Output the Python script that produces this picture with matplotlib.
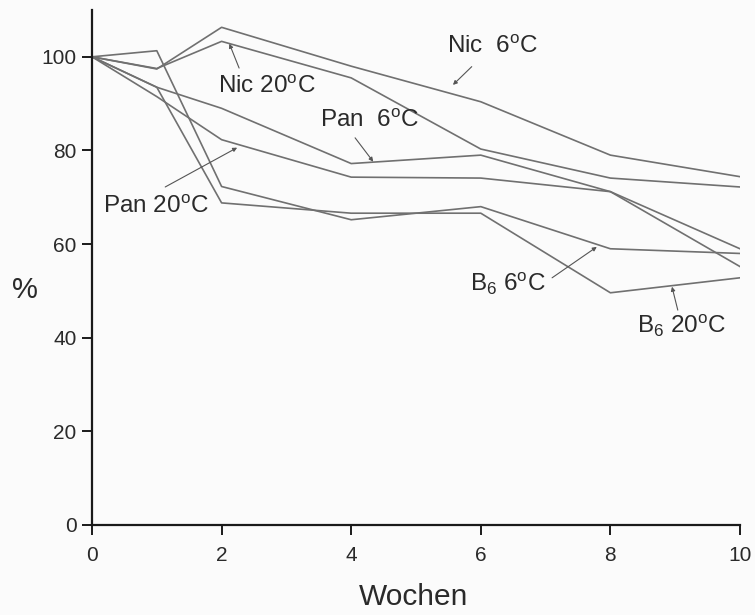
import matplotlib
matplotlib.use("Agg")
import matplotlib.pyplot as plt

plt.rcParams['font.family'] = ['Liberation Sans', 'DejaVu Sans']
plt.rcParams['mathtext.fontset'] = 'custom'
plt.rcParams['mathtext.rm'] = 'Liberation Sans'
plt.rcParams['mathtext.it'] = 'Liberation Sans'

weeks = [0, 1, 2, 4, 6, 8, 10]
nic_6 = [100, 97.4, 106.3, 98.0, 90.4, 79.0, 74.4]
nic_20 = [100, 97.5, 103.3, 95.5, 80.3, 74.1, 72.2]
pan_6 = [100, 93.5, 89.0, 77.2, 79.0, 71.2, 59.0]
pan_20 = [100, 91.5, 82.3, 74.3, 74.1, 71.2, 55.2]
b6_6 = [100, 101.3, 72.3, 65.2, 68.0, 59.0, 58.0]
b6_20 = [100, 93.5, 68.8, 66.6, 66.6, 49.6, 52.8]

series = [nic_6, nic_20, pan_6, pan_20, b6_6, b6_20]

labels = [r'Nic  6$^{\mathrm{o}}$C', r'Nic 20$^{\mathrm{o}}$C', r'Pan  6$^{\mathrm{o}}$C',
          r'Pan 20$^{\mathrm{o}}$C', r'B$_{\mathrm{6}}$ 6$^{\mathrm{o}}$C', r'B$_{\mathrm{6}}$ 20$^{\mathrm{o}}$C']
text_pos = [(5.48, 102.1), (1.94, 93.6), (3.52, 86.3), (0.17, 67.9), (5.83, 51.5), (8.41, 42.5)]
arrow_from = [(5.86, 97.9), (2.27, 97.6), (4.06, 82.7), (1.13, 72.2), (7.10, 52.8), (9.04, 45.9)]
arrow_to = [(5.57, 94.0), (2.12, 102.8), (4.34, 77.6), (2.24, 80.6), (7.79, 59.4), (8.95, 50.9)]

fig = plt.figure(figsize=(7.55, 6.15), dpi=100, facecolor='#fbfbfb')
ax = fig.add_axes([92/755, 1-525/615, (740-92)/755, (525-10)/615])
ax.set_facecolor('#fbfbfb')

for s in series:
    ax.plot(weeks, s, color='#707070', lw=1.2)

for lab, tp, af, at in zip(labels, text_pos, arrow_from, arrow_to):
    ax.text(tp[0], tp[1], lab, fontsize=17.5, ha='left', va='center', color='#2a2a2a')
    ax.annotate('', xy=at, xytext=af,
                arrowprops=dict(arrowstyle='-|>', lw=0.8, color='#555555',
                                mutation_scale=6, shrinkA=0, shrinkB=0))

ax.set_xlim(0, 10)
ax.set_ylim(0, 110)
ax.set_xticks([0, 2, 4, 6, 8, 10])
ax.set_yticks([0, 20, 40, 60, 80, 100])
ax.spines['top'].set_visible(False)
ax.spines['right'].set_visible(False)
for sp in ['left', 'bottom']:
    ax.spines[sp].set_linewidth(1.6)
    ax.spines[sp].set_color('#1a1a1a')
ax.tick_params(axis='both', direction='out', length=7, width=1.4, labelsize=15,
               colors='#1a1a1a', labelcolor='#2a2a2a')
ax.tick_params(axis='y', pad=4)
ax.tick_params(axis='x', pad=8)

fig.text(25/755, 1-290/615, '%', fontsize=21, ha='center', va='center', color='#2a2a2a')
fig.text(414/755, 1-597/615, 'Wochen', fontsize=21.5, ha='center', va='center', color='#2a2a2a')

fig.savefig('out.png', dpi=100, facecolor=fig.get_facecolor())
